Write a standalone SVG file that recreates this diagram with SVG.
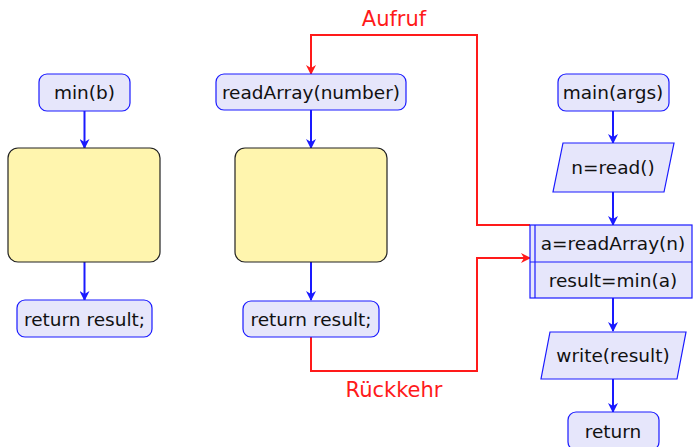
<svg xmlns="http://www.w3.org/2000/svg" width="693" height="447" viewBox="0 0 693 447">
<defs>
<style>
.n{fill:#e6e6fb;stroke:#1a1aff;stroke-width:1.2}
.y{fill:#fff5ae;stroke:#222;stroke-width:1.2}
.t{font-family:"DejaVu Sans",sans-serif;font-size:18.5px;fill:#111;text-anchor:middle}
.r{font-family:"DejaVu Sans",sans-serif;font-size:21px;fill:#ff1a1a;text-anchor:middle}
.c{fill:none;stroke:#1a1aff;stroke-width:2}
.cr{fill:none;stroke:#ff1a1a;stroke-width:2}
</style>
<marker id="ab" viewBox="0 0 10 10" refX="9" refY="5" markerWidth="5" markerHeight="5" orient="auto" markerUnits="strokeWidth">
<path d="M0,0 L10,5 L0,10 L3,5 Z" fill="#1a1aff"/>
</marker>
<marker id="ar" viewBox="0 0 10 10" refX="9" refY="5" markerWidth="5" markerHeight="5" orient="auto" markerUnits="strokeWidth">
<path d="M0,0 L10,5 L0,10 L3,5 Z" fill="#ff1a1a"/>
</marker>
</defs>
<g id="connectors">
<line class="c" x1="84.5" y1="111" x2="84.5" y2="148" marker-end="url(#ab)"/>
<line class="c" x1="84.5" y1="262" x2="84.5" y2="300" marker-end="url(#ab)"/>
<line class="c" x1="311" y1="110" x2="311" y2="148" marker-end="url(#ab)"/>
<line class="c" x1="311" y1="262" x2="311" y2="300" marker-end="url(#ab)"/>
<line class="c" x1="613" y1="111" x2="613" y2="143" marker-end="url(#ab)"/>
<line class="c" x1="613" y1="192" x2="613" y2="225" marker-end="url(#ab)"/>
<line class="c" x1="613" y1="298" x2="613" y2="331" marker-end="url(#ab)"/>
<line class="c" x1="613" y1="379" x2="613" y2="412" marker-end="url(#ab)"/>
<polyline class="cr" points="530,225 477,225 477,35 311,35 311,74" marker-end="url(#ar)"/>
<polyline class="cr" points="311,337 311,371 477,371 477,258 530,258" marker-end="url(#ar)"/>
<text class="r" x="394" y="26">Aufruf</text>
<text class="r" x="394" y="397">Rückkehr</text>
</g>
<g id="min"><rect class="n" x="39" y="74" width="91" height="37" rx="8"/><text class="t" x="84.5" y="99">min(b)</text></g>
<g id="body1"><rect class="y" x="8" y="148" width="152" height="114" rx="10"/></g>
<g id="ret1"><rect class="n" x="17" y="300" width="135" height="37" rx="8"/><text class="t" x="84.5" y="325.5">return result;</text></g>
<g id="readArray"><rect class="n" x="216" y="74" width="190" height="36" rx="8"/><text class="t" x="311" y="98.5">readArray(number)</text></g>
<g id="body2"><rect class="y" x="235" y="148" width="152" height="114" rx="10"/></g>
<g id="ret2"><rect class="n" x="243" y="301" width="136" height="36" rx="8"/><text class="t" x="311" y="325.5">return result;</text></g>
<g id="main"><rect class="n" x="558" y="74" width="111" height="37" rx="8"/><text class="t" x="613" y="99">main(args)</text></g>
<g id="read"><polygon class="n" points="563,143 674,143 664,192 553,192"/><text class="t" x="613" y="173.5">n=read()</text></g>
<g id="sub"><rect class="n" x="530" y="225" width="162" height="73"/><line class="n" x1="535" y1="225" x2="535" y2="298"/><line class="n" x1="530" y1="262" x2="692" y2="262"/><text class="t" x="613" y="249.5">a=readArray(n)</text><text class="t" x="613" y="286.5">result=min(a)</text></g>
<g id="write"><polygon class="n" points="550,332 686,332 677,379 541,379"/><text class="t" x="613" y="361.5">write(result)</text></g>
<g id="ret3"><rect class="n" x="568" y="412" width="91" height="38" rx="8"/><text class="t" x="613" y="437.5">return</text></g>
</svg>
